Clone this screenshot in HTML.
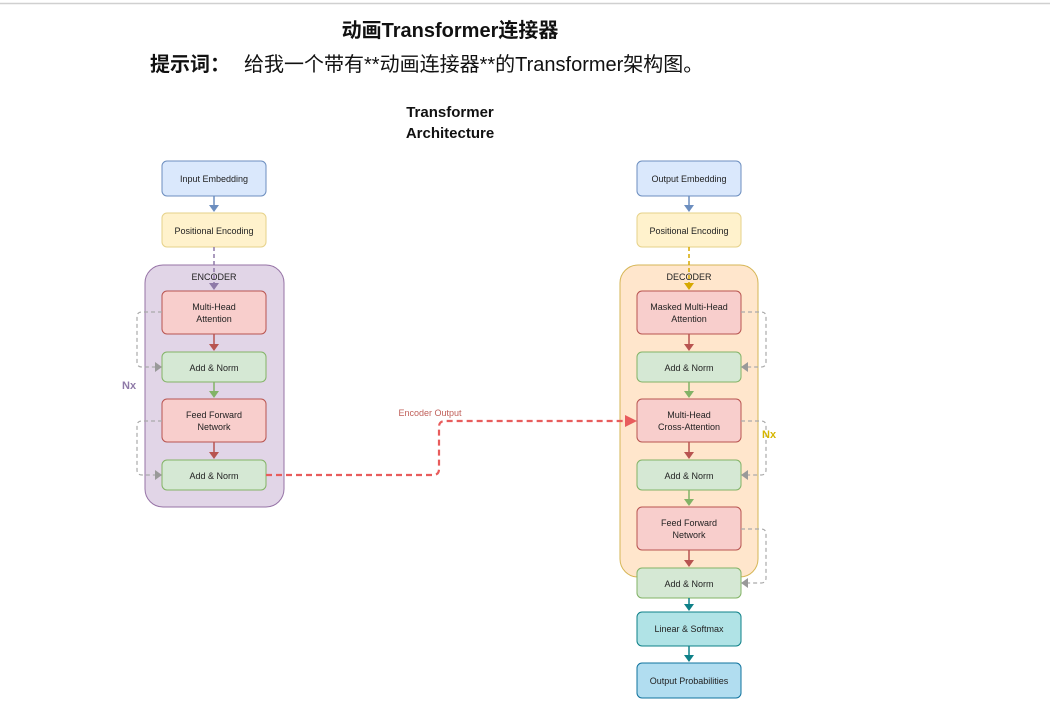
<!DOCTYPE html>
<html><head><meta charset="utf-8"><style>
html,body{margin:0;padding:0;background:#fff;width:1050px;height:709px;overflow:hidden}
svg{display:block}
text{font-family:"Liberation Sans","Noto Sans CJK SC",sans-serif}
</style></head><body>
<svg width="1050" height="709" viewBox="0 0 1050 709" xmlns="http://www.w3.org/2000/svg">
<line x1="0" y1="3.5" x2="1050" y2="3.5" stroke="#d0d0d0" stroke-width="1.5"/>
<text x="450" y="37" text-anchor="middle" font-size="20" font-weight="bold" fill="#111">动画Transformer连接器</text>
<text x="150" y="71" font-size="20" font-weight="bold" fill="#111">提示词：</text>
<text x="244" y="71" font-size="20" fill="#111">给我一个带有**动画连接器**的Transformer架构图。</text>
<text x="450" y="117" text-anchor="middle" font-size="15" font-weight="bold" fill="#111">Transformer</text>
<text x="450" y="138" text-anchor="middle" font-size="15" font-weight="bold" fill="#111">Architecture</text>

<!-- containers -->
<rect x="145" y="265" width="139" height="242" rx="18" fill="#e1d5e7" stroke="#9673a6"/>
<text x="214" y="280" text-anchor="middle" font-size="9" fill="#222">ENCODER</text>
<rect x="620" y="265" width="138" height="312" rx="18" fill="#ffe6cc" stroke="#d6b656"/>
<text x="689" y="280" text-anchor="middle" font-size="9" fill="#222">DECODER</text>

<g font-size="9" fill="#222" text-anchor="middle">
<!-- encoder boxes -->
<rect x="162" y="161" width="104" height="35" rx="5" fill="#dae8fc" stroke="#6c8ebf"/>
<text x="214" y="182">Input Embedding</text>
<rect x="162" y="213" width="104" height="34" rx="5" fill="#fff2cc" stroke="#e6d28a"/>
<text x="214" y="234">Positional Encoding</text>
<rect x="162" y="291" width="104" height="43" rx="5" fill="#f8cecc" stroke="#b85450"/>
<text x="214" y="310">Multi-Head</text><text x="214" y="322">Attention</text>
<rect x="162" y="352" width="104" height="30" rx="5" fill="#d5e8d4" stroke="#82b366"/>
<text x="214" y="371">Add &amp; Norm</text>
<rect x="162" y="399" width="104" height="43" rx="5" fill="#f8cecc" stroke="#b85450"/>
<text x="214" y="418">Feed Forward</text><text x="214" y="430">Network</text>
<rect x="162" y="460" width="104" height="30" rx="5" fill="#d5e8d4" stroke="#82b366"/>
<text x="214" y="479">Add &amp; Norm</text>

<!-- decoder boxes -->
<rect x="637" y="161" width="104" height="35" rx="5" fill="#dae8fc" stroke="#6c8ebf"/>
<text x="689" y="182">Output Embedding</text>
<rect x="637" y="213" width="104" height="34" rx="5" fill="#fff2cc" stroke="#e6d28a"/>
<text x="689" y="234">Positional Encoding</text>
<rect x="637" y="291" width="104" height="43" rx="5" fill="#f8cecc" stroke="#b85450"/>
<text x="689" y="310">Masked Multi-Head</text><text x="689" y="322">Attention</text>
<rect x="637" y="352" width="104" height="30" rx="5" fill="#d5e8d4" stroke="#82b366"/>
<text x="689" y="371">Add &amp; Norm</text>
<rect x="637" y="399" width="104" height="43" rx="5" fill="#f8cecc" stroke="#b85450"/>
<text x="689" y="418">Multi-Head</text><text x="689" y="430">Cross-Attention</text>
<rect x="637" y="460" width="104" height="30" rx="5" fill="#d5e8d4" stroke="#82b366"/>
<text x="689" y="479">Add &amp; Norm</text>
<rect x="637" y="507" width="104" height="43" rx="5" fill="#f8cecc" stroke="#b85450"/>
<text x="689" y="526">Feed Forward</text><text x="689" y="538">Network</text>
<rect x="637" y="568" width="104" height="30" rx="5" fill="#d5e8d4" stroke="#82b366"/>
<text x="689" y="587">Add &amp; Norm</text>
<rect x="637" y="612" width="104" height="34" rx="5" fill="#b0e3e6" stroke="#0e8088"/>
<text x="689" y="632">Linear &amp; Softmax</text>
<rect x="637" y="663" width="104" height="35" rx="5" fill="#b1ddf0" stroke="#10739e"/>
<text x="689" y="684">Output Probabilities</text>
</g>

<!-- vertical arrows -->
<g stroke-width="1.5">
<line x1="214" y1="196" x2="214" y2="207" stroke="#6c8ebf"/><polygon points="209,205 219,205 214,212" fill="#6c8ebf"/>
<line x1="214" y1="247" x2="214" y2="285" stroke="#8f7aa8" stroke-dasharray="4,3"/><polygon points="209,283 219,283 214,290" fill="#8f7aa8"/>
<line x1="214" y1="334" x2="214" y2="346" stroke="#b85450"/><polygon points="209,344 219,344 214,351" fill="#b85450"/>
<line x1="214" y1="382" x2="214" y2="393" stroke="#82b366"/><polygon points="209,391 219,391 214,398" fill="#82b366"/>
<line x1="214" y1="442" x2="214" y2="454" stroke="#b85450"/><polygon points="209,452 219,452 214,459" fill="#b85450"/>

<line x1="689" y1="196" x2="689" y2="207" stroke="#6c8ebf"/><polygon points="684,205 694,205 689,212" fill="#6c8ebf"/>
<line x1="689" y1="247" x2="689" y2="285" stroke="#d6a800" stroke-dasharray="4,3"/><polygon points="684,283 694,283 689,290" fill="#d6a800"/>
<line x1="689" y1="334" x2="689" y2="346" stroke="#b85450"/><polygon points="684,344 694,344 689,351" fill="#b85450"/>
<line x1="689" y1="382" x2="689" y2="393" stroke="#82b366"/><polygon points="684,391 694,391 689,398" fill="#82b366"/>
<line x1="689" y1="442" x2="689" y2="454" stroke="#b85450"/><polygon points="684,452 694,452 689,459" fill="#b85450"/>
<line x1="689" y1="490" x2="689" y2="501" stroke="#82b366"/><polygon points="684,499 694,499 689,506" fill="#82b366"/>
<line x1="689" y1="550" x2="689" y2="562" stroke="#b85450"/><polygon points="684,560 694,560 689,567" fill="#b85450"/>
<line x1="689" y1="598" x2="689" y2="606" stroke="#0e8088"/><polygon points="684,604 694,604 689,611" fill="#0e8088"/>
<line x1="689" y1="646" x2="689" y2="657" stroke="#0e8088"/><polygon points="684,655 694,655 689,662" fill="#0e8088"/>
</g>

<!-- residual loops -->
<g fill="none" stroke="#aaaaaa" stroke-width="1.2" stroke-dasharray="4,3">
<path d="M162,312 H142 Q137,312 137,317 V362 Q137,367 142,367 H155"/>
<path d="M162,421 H142 Q137,421 137,426 V470 Q137,475 142,475 H155"/>
<path d="M741,312 H761 Q766,312 766,317 V362 Q766,367 761,367 H748"/>
<path d="M741,421 H761 Q766,421 766,426 V470 Q766,475 761,475 H748"/>
<path d="M741,529 H761 Q766,529 766,534 V578 Q766,583 761,583 H748"/>
</g>
<g fill="#999">
<polygon points="155,362 162,367 155,372"/>
<polygon points="155,470 162,475 155,480"/>
<polygon points="748,362 741,367 748,372"/>
<polygon points="748,470 741,475 748,480"/>
<polygon points="748,578 741,583 748,588"/>
</g>
<text x="122" y="389" font-size="11" font-weight="bold" fill="#8f7aa8">Nx</text>
<text x="762" y="438" font-size="11" font-weight="bold" fill="#d6b600">Nx</text>

<!-- encoder output -->
<path d="M266,475 H433 Q439,475 439,469 V427 Q439,421 445,421 H628" fill="none" stroke="#e85c5c" stroke-width="2.2" stroke-dasharray="6,4"/>
<polygon points="625,415 637,421 625,427" fill="#e85c5c"/>
<text x="430" y="416" text-anchor="middle" font-size="9" fill="#c0605a">Encoder Output</text>
</svg>
</body></html>
